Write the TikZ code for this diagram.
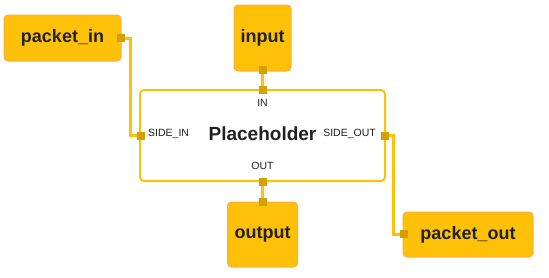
\documentclass[tikz,border=0pt]{standalone}
\usepackage{fontspec}
\setmainfont{Liberation Sans}
\definecolor{boxfill}{HTML}{FFC107}
\definecolor{boxedge}{HTML}{FFAB40}
\definecolor{portcol}{HTML}{D4A000}
\definecolor{wirecol}{HTML}{FFC107}
\definecolor{txt}{HTML}{212121}
\tikzset{
  x=1pt, y=-1pt,
  gbox/.style={draw=boxedge, fill=boxfill, line width=1pt, rounded corners=4pt,
    inner sep=0pt, text=txt, font=\bfseries\fontsize{18}{20}\selectfont},
  opbox/.style={draw=wirecol, fill=white, line width=2pt, rounded corners=4pt,
    inner sep=0pt, minimum width=245pt, minimum height=91pt},
  port/.style={fill=portcol, draw=none, minimum size=8pt, inner sep=0pt},
  wire/.style={draw=wirecol, line width=3pt},
  plabel/.style={text=txt, font=\fontsize{10.5}{12}\selectfont, inner sep=0pt},
}
\begin{document}
\begin{tikzpicture}
\useasboundingbox (0,0) rectangle (549,277);
% main operator box
\node[opbox] (ph) at (262.5,135.5) {};
\node[text=txt, font=\bfseries\fontsize{19}{22}\selectfont] (title) at (262.5,134) {Placeholder};
% stream boxes
\node[gbox, minimum width=117pt, minimum height=46pt] (pin) at (62.5,38) {packet\_in};
\node[gbox, minimum width=57pt, minimum height=66pt] (inp) at (262.5,38) {input};
\node[gbox, minimum width=70pt, minimum height=65pt] (outp) at (262.5,234.5) {output};
\node[gbox, minimum width=130pt, minimum height=45pt] (pout) at (468,234.5) {packet\_out};
% ports
\node[port] (ppin) at (121,38) {};
\node[port] (pinp) at (262.5,69.5) {};
\node[port] (phin) at (262.5,89.5) {};
\node[port] (phside) at (140.5,135.5) {};
\node[port] (phsideout) at (384.5,135.5) {};
\node[port] (phout) at (262.5,182) {};
\node[port] (poutp) at (262.5,202) {};
\node[port] (ppout) at (404,234) {};
% port labels
\node[plabel, anchor=west] (lsi) at (148,134) {SIDE\_IN};
\node[plabel, anchor=east] (lso) at (376,134) {SIDE\_OUT};
\node[plabel] (lin) at (262.5,103) {IN};
\node[plabel] (lout) at (262.5,166) {OUT};
% wiring corners
\coordinate (c1) at (130,38);
\coordinate (c2) at (130,135.5);
\coordinate (c3) at (393,135.5);
\coordinate (c4) at (393,234);
\draw[wire] (ppin.center) -- (c1) -- (c2) -- (phside.center);
\draw[wire] (pinp.center) -- (phin.center);
\draw[wire] (phsideout.center) -- (c3) -- (c4) -- (ppout.center);
\draw[wire] (phout.center) -- (poutp.center);
% redraw ports on top
\foreach \p in {ppin,pinp,phin,phside,phsideout,phout,poutp,ppout}
  \fill[portcol] ([xshift=-4pt,yshift=4pt]\p.center) rectangle ([xshift=4pt,yshift=-4pt]\p.center);
\end{tikzpicture}
\end{document}
